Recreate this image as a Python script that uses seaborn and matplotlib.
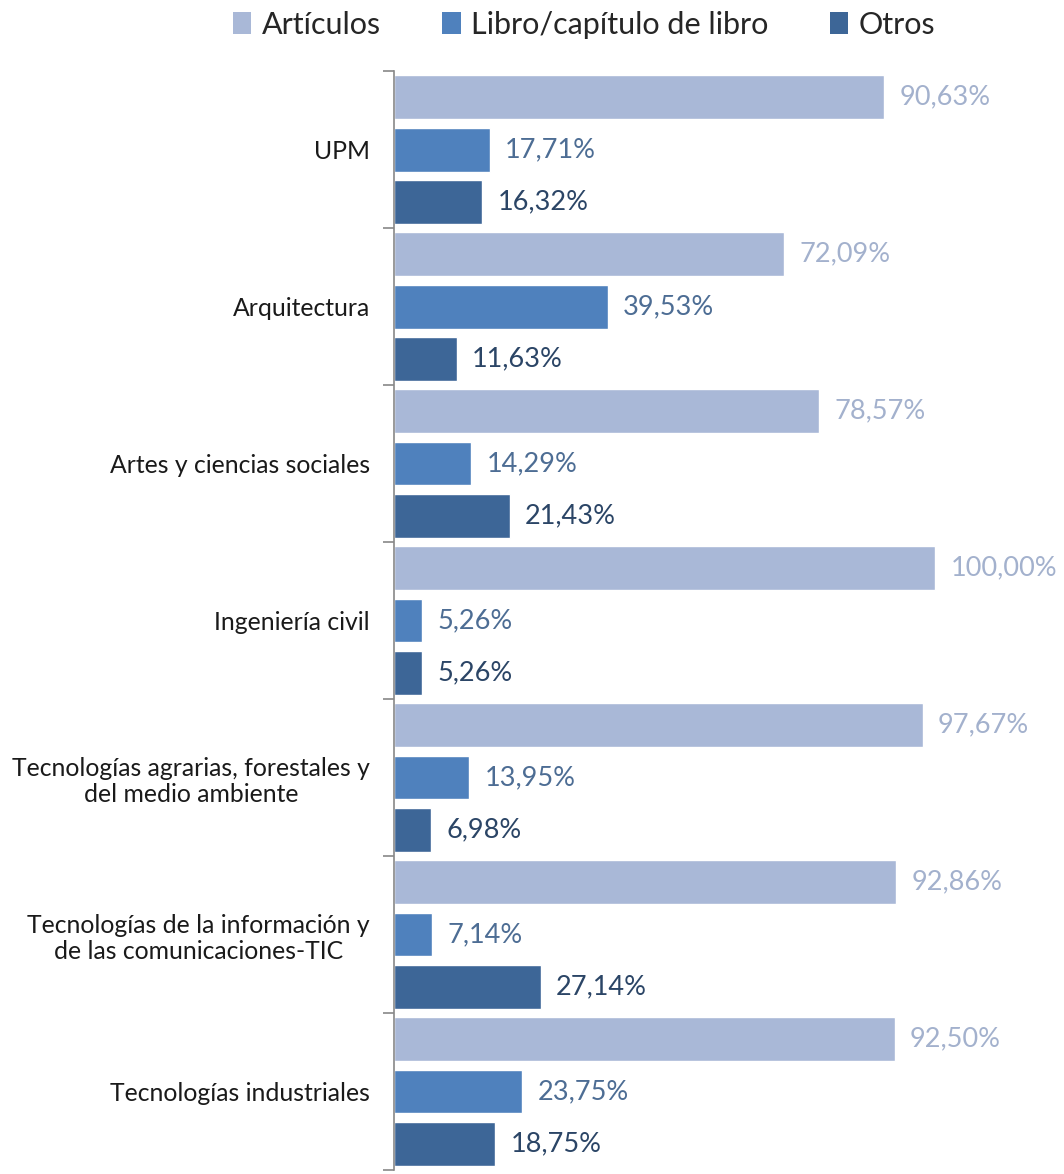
import pandas as pd
import numpy as np
import matplotlib
matplotlib.use("Agg")
import matplotlib.pyplot as plt
import seaborn as sns
from matplotlib.patches import Patch

categories = [
    "UPM",
    "Arquitectura",
    "Artes y ciencias sociales",
    "Ingeniería civil",
    "Tecnologías agrarias, forestales y\ndel medio ambiente",
    "Tecnologías de la información y\nde las comunicaciones-TIC",
    "Tecnologías industriales",
]
series = ["Artículos", "Libro/capítulo de libro", "Otros"]
articulos = [90.63, 72.09, 78.57, 100.00, 97.67, 92.86, 92.50]
libros = [17.71, 39.53, 14.29, 5.26, 13.95, 7.14, 23.75]
otros = [16.32, 11.63, 21.43, 5.26, 6.98, 27.14, 18.75]

bar_colors = ["#A9B8D7", "#4F81BD", "#3D6697"]
text_colors = ["#A3B1CD", "#4D6D94", "#2B4566"]

df = pd.DataFrame({
    "categoria": categories * 3,
    "tipo": [s for s in series for _ in categories],
    "valor": articulos + libros + otros,
})

sns.set_style("white")
plt.rcParams["font.family"] = ["Lato", "DejaVu Sans"]

fig = plt.figure(figsize=(10.64, 11.74), dpi=100)
ax = fig.add_axes([0.370, 0.0034, 0.63, 0.9361])

sns.barplot(data=df, y="categoria", x="valor", hue="tipo", orient="h",
            palette=bar_colors, width=1.0, gap=0.16, ax=ax, legend=False,
            saturation=1)

ax.set_xlim(0, 123.8)
ax.set_ylim(len(categories) - 0.5, -0.5)
ax.set_xlabel("")
ax.set_ylabel("")
ax.set_xticks([])

# etiquetas de valor con coma decimal
for cont, col in zip(ax.containers, text_colors):
    labs = [f"{b.get_width():.2f}%".replace(".", ",") for b in cont]
    ax.bar_label(cont, labels=labs, padding=11, color=col, fontsize=19.5)

ax.set_yticks(range(len(categories)))
ax.set_yticklabels(categories, fontsize=17.8, multialignment="center", color="#1a1a1a")
ax.tick_params(axis="y", which="major", left=False, length=0, pad=17)
ax.set_yticks(np.arange(-0.5, len(categories), 1.0), minor=True)
ax.tick_params(axis="y", which="minor", left=True, length=8, color="#888888",
               width=1.2, direction="out")

for s in ["top", "right", "bottom"]:
    ax.spines[s].set_visible(False)
ax.spines["left"].set_color("#888888")
ax.spines["left"].set_linewidth(1.2)

handles = [Patch(facecolor=c, edgecolor="none") for c in bar_colors]
fig.legend(handles, series, loc="center", bbox_to_anchor=(0.549, 0.979), ncol=3,
           frameon=False, fontsize=22, handlelength=0.6, handleheight=0.75,
           handletextpad=0.35, columnspacing=2.0)

fig.savefig("out.png", dpi=100)
